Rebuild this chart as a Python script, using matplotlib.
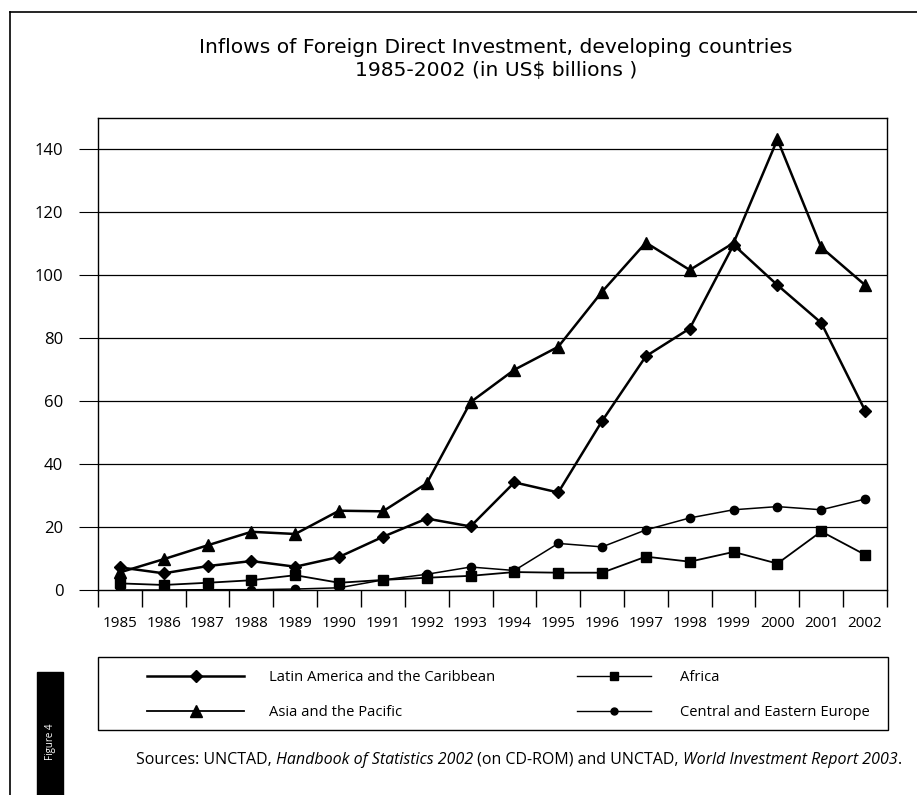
import matplotlib.pyplot as plt
from matplotlib.patches import Rectangle
from matplotlib.lines import Line2D
from matplotlib.ticker import FixedLocator
import numpy as np

years = ["1985", "1986", "1987", "1988", "1989", "1990", "1991", "1992", "1993",
         "1994", "1995", "1996", "1997", "1998", "1999", "2000", "2001", "2002"]
latin_america = [7.2, 5.3, 7.6, 9.2, 7.4, 10.5, 16.9, 22.7, 20.2,
                 34.2, 31.0, 53.7, 74.3, 83.1, 109.7, 96.9, 84.9, 57.0]
asia_pacific = [5.6, 9.8, 14.2, 18.5, 17.8, 25.2, 25.0, 33.9, 59.7,
                70.0, 77.3, 94.8, 110.4, 101.7, 110.3, 143.2, 108.9, 96.9]
africa = [2.1, 1.6, 2.3, 3.1, 4.7, 2.3, 3.2, 3.9, 4.5,
          5.7, 5.5, 5.5, 10.6, 9.0, 12.1, 8.4, 18.6, 11.2]
cee = [0.0, 0.0, 0.1, 0.1, 0.3, 0.7, 3.2, 5.0, 7.3,
       6.2, 14.8, 13.7, 19.1, 22.9, 25.5, 26.5, 25.5, 28.9]
y_ticks = [0, 20, 40, 60, 80, 100, 120, 140]

title = "Inflows of Foreign Direct Investment, developing countries\n1985-2002 (in US$ billions )"
font = "Open Sans"

W, H = 917, 795
fig = plt.figure(figsize=(W / 100, H / 100), dpi=100)
ax = fig.add_axes([98 / W, 1 - 590 / H, (887 - 98) / W, (590 - 118) / H])

x = np.arange(len(years))
ax.plot(x, latin_america, color="black", lw=1.8, marker="D", ms=6, zorder=4)
ax.plot(x, asia_pacific, color="black", lw=1.8, marker="^", ms=9, zorder=4)
ax.plot(x, africa, color="black", lw=1.3, marker="s", ms=7, zorder=4)
ax.plot(x, cee, color="black", lw=1.1, marker="o", ms=6, zorder=4)

ax.set_xlim(-0.5, len(years) - 0.5)
ax.set_ylim(0, 150)
ax.set_yticks(y_ticks)
ax.set_yticklabels([str(v) for v in y_ticks], fontsize=12, family=font)
ax.tick_params(axis="y", length=14, width=0.8, pad=11)
ax.set_xticks(x)
ax.set_xticklabels(years, fontsize=11, family=font, fontweight="medium")
ax.tick_params(axis="x", which="major", length=0, pad=19)
ax.xaxis.set_minor_locator(FixedLocator(np.arange(-0.5, len(years), 1.0)))
ax.tick_params(axis="x", which="minor", length=12, width=1.0, direction="out")
for v in y_ticks[1:]:
    ax.axhline(v, color="black", lw=0.9, zorder=1)
for s in ax.spines.values():
    s.set_linewidth(1.0)

fig.text(496 / W, 1 - 59 / H, title, ha="center", va="center", fontsize=14.6,
         family="DejaVu Sans", linespacing=1.3)

# page frame
fig.add_artist(Line2D([10 / W, 10 / W], [0, 1 - 12 / H], color="black", lw=1.2))
fig.add_artist(Line2D([10 / W, 1], [1 - 12 / H, 1 - 12 / H], color="black", lw=1.2))

# legend box
fig.add_artist(Rectangle((98 / W, 1 - 730 / H), (888 - 98) / W, (730 - 657) / H,
                         transform=fig.transFigure, fill=False, ec="black", lw=1.0))
h_la = Line2D([], [], color="black", lw=1.8, marker="D", ms=6)
h_as = Line2D([], [], color="black", lw=1.3, marker="^", ms=9)
h_af = Line2D([], [], color="black", lw=1.0, marker="s", ms=6)
h_ce = Line2D([], [], color="black", lw=1.0, marker="o", ms=5)
leg_kw = dict(frameon=False, loc="upper left", labelspacing=1.35, borderpad=0,
              borderaxespad=0, prop={"family": font, "size": 10.6})
fig.legend([h_la, h_as], ["Latin America and the Caribbean", "Asia and the Pacific"],
           bbox_to_anchor=(147 / W, 1 - 670 / H), handlelength=6.6, handletextpad=1.7,
           **leg_kw)
fig.legend([h_af, h_ce], ["Africa", "Central and Eastern Europe"],
           bbox_to_anchor=(577 / W, 1 - 670 / H), handlelength=5.0, handletextpad=2.0,
           **leg_kw)

# figure tab
fig.add_artist(Rectangle((37 / W, 0), 26 / W, (795 - 672) / H,
                         transform=fig.transFigure, color="black"))
fig.text(50 / W, 1 - 742 / H, "Figure 4", rotation=90, color="white", fontsize=7,
         family=font, ha="center", va="center")

# sources line with italic titles
parts = [("Sources: UNCTAD, ", "normal"), ("Handbook of Statistics 2002", "italic"),
         (" (on CD-ROM) and UNCTAD, ", "normal"), ("World Investment Report 2003", "italic"),
         (".", "normal")]
renderer = fig.canvas.get_renderer()
xpos = 136
for txt, style in parts:
    t = fig.text(xpos / W, 1 - 760 / H, txt, fontsize=11.5, family=font, style=style,
                 va="center", ha="left")
    xpos += t.get_window_extent(renderer).width

fig.savefig("out.png", dpi=100)
